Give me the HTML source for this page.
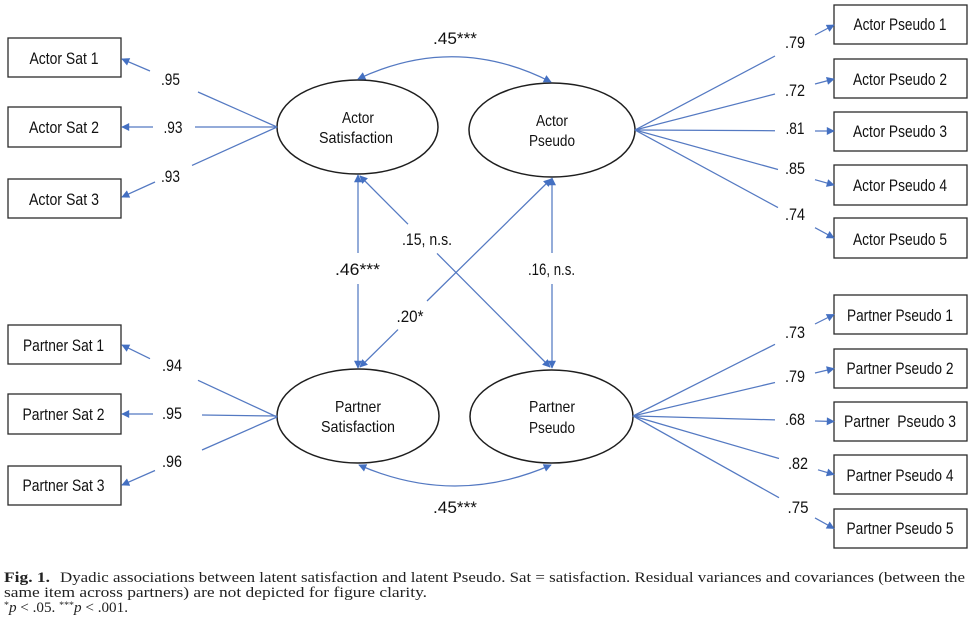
<!DOCTYPE html>
<html>
<head>
<meta charset="utf-8">
<style>
  html, body { margin: 0; padding: 0; background: #fff; }
  body { width: 975px; height: 630px; overflow: hidden; }
  svg { display: block; }
  .box { fill: #fff; stroke: #2b2b2b; stroke-width: 1.3; }
  .ell { fill: #fff; stroke: #1e1e1e; stroke-width: 1.5; }
  .ln { stroke: #5479c2; stroke-width: 1.25; fill: none; }
  .t { font-family: "Liberation Sans Narrow", "Liberation Sans", sans-serif; font-size: 17px; fill: #111; text-anchor: middle; }
  .e { font-family: "Liberation Sans Narrow", "Liberation Sans", sans-serif; font-size: 16px; fill: #111; text-anchor: middle; }
  .n { font-family: "Liberation Sans Narrow", "Liberation Sans", sans-serif; font-size: 16.5px; fill: #111; text-anchor: middle; }
  .c { font-family: "Liberation Serif", serif; font-size: 14.5px; fill: #222; }
</style>
</head>
<body>
<svg width="975" height="630" viewBox="0 0 975 630" xmlns="http://www.w3.org/2000/svg">
  <defs>
    <marker id="a" viewBox="0 0 10 10" refX="9" refY="5" markerWidth="10" markerHeight="8" markerUnits="userSpaceOnUse" orient="auto-start-reverse">
      <path d="M0,0 L10,5 L0,10 z" fill="#4470c2"/>
    </marker>
  </defs>

  <!-- Left boxes -->
  <rect class="box" x="8" y="38" width="113" height="39"/>
  <rect class="box" x="8" y="107" width="113" height="40"/>
  <rect class="box" x="8" y="179" width="113" height="39"/>
  <rect class="box" x="8" y="325" width="113" height="39"/>
  <rect class="box" x="8" y="394" width="113" height="40"/>
  <rect class="box" x="8" y="466" width="113" height="39"/>

  <text class="t" x="64" y="64" textLength="69" lengthAdjust="spacingAndGlyphs">Actor Sat 1</text>
  <text class="t" x="64" y="133" textLength="70" lengthAdjust="spacingAndGlyphs">Actor Sat 2</text>
  <text class="t" x="64" y="205" textLength="70" lengthAdjust="spacingAndGlyphs">Actor Sat 3</text>
  <text class="t" x="63.5" y="351" textLength="81" lengthAdjust="spacingAndGlyphs">Partner Sat 1</text>
  <text class="t" x="63.5" y="420" textLength="82" lengthAdjust="spacingAndGlyphs">Partner Sat 2</text>
  <text class="t" x="63.5" y="491" textLength="82" lengthAdjust="spacingAndGlyphs">Partner Sat 3</text>

  <!-- Right boxes -->
  <rect class="box" x="834" y="5" width="133" height="39"/>
  <rect class="box" x="834" y="59" width="133" height="39"/>
  <rect class="box" x="834" y="112" width="133" height="39"/>
  <rect class="box" x="834" y="165" width="133" height="40"/>
  <rect class="box" x="834" y="218" width="133" height="40"/>
  <rect class="box" x="834" y="295" width="133" height="39"/>
  <rect class="box" x="834" y="349" width="133" height="39"/>
  <rect class="box" x="834" y="402" width="133" height="39"/>
  <rect class="box" x="834" y="455" width="133" height="39"/>
  <rect class="box" x="834" y="509" width="133" height="39"/>

  <text class="t" x="900" y="30" textLength="93" lengthAdjust="spacingAndGlyphs">Actor Pseudo 1</text>
  <text class="t" x="900" y="85" textLength="94" lengthAdjust="spacingAndGlyphs">Actor Pseudo 2</text>
  <text class="t" x="900" y="137" textLength="94" lengthAdjust="spacingAndGlyphs">Actor Pseudo 3</text>
  <text class="t" x="900" y="191" textLength="94" lengthAdjust="spacingAndGlyphs">Actor Pseudo 4</text>
  <text class="t" x="900" y="245" textLength="94" lengthAdjust="spacingAndGlyphs">Actor Pseudo 5</text>
  <text class="t" x="900" y="321" textLength="106" lengthAdjust="spacingAndGlyphs">Partner Pseudo 1</text>
  <text class="t" x="900" y="374" textLength="107" lengthAdjust="spacingAndGlyphs">Partner Pseudo 2</text>
  <text class="t" x="900" y="427" textLength="112" lengthAdjust="spacingAndGlyphs" xml:space="preserve">Partner  Pseudo 3</text>
  <text class="t" x="900" y="481" textLength="107" lengthAdjust="spacingAndGlyphs">Partner Pseudo 4</text>
  <text class="t" x="900" y="534" textLength="107" lengthAdjust="spacingAndGlyphs">Partner Pseudo 5</text>

  <!-- Ellipses -->
  <ellipse class="ell" cx="357.5" cy="127" rx="80.5" ry="47"/>
  <ellipse class="ell" cx="552" cy="130" rx="83" ry="47"/>
  <ellipse class="ell" cx="358" cy="416" rx="81" ry="47"/>
  <ellipse class="ell" cx="551.5" cy="416.5" rx="81.5" ry="46.5"/>

  <text class="e" x="358" y="123" textLength="32" lengthAdjust="spacingAndGlyphs">Actor</text>
  <text class="e" x="356" y="143" textLength="74" lengthAdjust="spacingAndGlyphs">Satisfaction</text>
  <text class="e" x="552" y="126" textLength="32" lengthAdjust="spacingAndGlyphs">Actor</text>
  <text class="e" x="552" y="146" textLength="46" lengthAdjust="spacingAndGlyphs">Pseudo</text>
  <text class="e" x="358" y="412" textLength="46" lengthAdjust="spacingAndGlyphs">Partner</text>
  <text class="e" x="358" y="432" textLength="74" lengthAdjust="spacingAndGlyphs">Satisfaction</text>
  <text class="e" x="552" y="412" textLength="46" lengthAdjust="spacingAndGlyphs">Partner</text>
  <text class="e" x="552" y="433" textLength="46" lengthAdjust="spacingAndGlyphs">Pseudo</text>

  <!-- Actor satisfaction indicators -->
  <line class="ln" x1="277" y1="127" x2="198" y2="92"/>
  <line class="ln" x1="150" y1="71" x2="122" y2="59" marker-end="url(#a)"/>
  <line class="ln" x1="277" y1="127" x2="195" y2="127"/>
  <line class="ln" x1="153" y1="127" x2="122" y2="127" marker-end="url(#a)"/>
  <line class="ln" x1="277" y1="127" x2="192" y2="165.4"/>
  <line class="ln" x1="155" y1="182" x2="122" y2="197" marker-end="url(#a)"/>
  <text class="n" x="170.5" y="85" textLength="19" lengthAdjust="spacingAndGlyphs">.95</text>
  <text class="n" x="173" y="133" textLength="19" lengthAdjust="spacingAndGlyphs">.93</text>
  <text class="n" x="170.5" y="182" textLength="19" lengthAdjust="spacingAndGlyphs">.93</text>

  <!-- Partner satisfaction indicators -->
  <line class="ln" x1="277" y1="417" x2="198" y2="380.3"/>
  <line class="ln" x1="150" y1="358.7" x2="122" y2="345" marker-end="url(#a)"/>
  <line class="ln" x1="277" y1="416" x2="202" y2="415"/>
  <line class="ln" x1="153" y1="414" x2="122" y2="414" marker-end="url(#a)"/>
  <line class="ln" x1="277" y1="417" x2="202" y2="450"/>
  <line class="ln" x1="155" y1="470.5" x2="122" y2="485" marker-end="url(#a)"/>
  <text class="n" x="172" y="371" textLength="20" lengthAdjust="spacingAndGlyphs">.94</text>
  <text class="n" x="172" y="419" textLength="20" lengthAdjust="spacingAndGlyphs">.95</text>
  <text class="n" x="172" y="467" textLength="20" lengthAdjust="spacingAndGlyphs">.96</text>

  <!-- Actor pseudo indicators -->
  <line class="ln" x1="635" y1="130" x2="775" y2="56"/>
  <line class="ln" x1="815" y1="35" x2="834" y2="25" marker-end="url(#a)"/>
  <line class="ln" x1="635" y1="130" x2="775" y2="94"/>
  <line class="ln" x1="815" y1="84" x2="834" y2="79" marker-end="url(#a)"/>
  <line class="ln" x1="635" y1="130" x2="775" y2="130.7"/>
  <line class="ln" x1="815" y1="131" x2="834" y2="131" marker-end="url(#a)"/>
  <line class="ln" x1="635" y1="130" x2="778" y2="169.5"/>
  <line class="ln" x1="815" y1="179.7" x2="834" y2="185" marker-end="url(#a)"/>
  <line class="ln" x1="635" y1="130" x2="778" y2="207.6"/>
  <line class="ln" x1="815" y1="227.7" x2="834" y2="238" marker-end="url(#a)"/>
  <text class="n" x="795" y="48" textLength="20" lengthAdjust="spacingAndGlyphs">.79</text>
  <text class="n" x="795" y="96" textLength="20" lengthAdjust="spacingAndGlyphs">.72</text>
  <text class="n" x="795" y="134" textLength="19" lengthAdjust="spacingAndGlyphs">.81</text>
  <text class="n" x="795" y="174" textLength="20" lengthAdjust="spacingAndGlyphs">.85</text>
  <text class="n" x="795" y="220" textLength="20" lengthAdjust="spacingAndGlyphs">.74</text>

  <!-- Partner pseudo indicators -->
  <line class="ln" x1="633" y1="416" x2="775" y2="344.3"/>
  <line class="ln" x1="815" y1="324" x2="834" y2="314.5" marker-end="url(#a)"/>
  <line class="ln" x1="633" y1="416" x2="775" y2="382.5"/>
  <line class="ln" x1="815" y1="373" x2="834" y2="368.5" marker-end="url(#a)"/>
  <line class="ln" x1="633" y1="416" x2="775" y2="419.9"/>
  <line class="ln" x1="815" y1="421" x2="834" y2="421.5" marker-end="url(#a)"/>
  <line class="ln" x1="633" y1="416" x2="779" y2="458.5"/>
  <line class="ln" x1="818" y1="469.8" x2="834" y2="474.5" marker-end="url(#a)"/>
  <line class="ln" x1="633" y1="416" x2="779" y2="497.7"/>
  <line class="ln" x1="815" y1="517.9" x2="834" y2="528.5" marker-end="url(#a)"/>
  <text class="n" x="795" y="338" textLength="20" lengthAdjust="spacingAndGlyphs">.73</text>
  <text class="n" x="795" y="382" textLength="20" lengthAdjust="spacingAndGlyphs">.79</text>
  <text class="n" x="795" y="425" textLength="20" lengthAdjust="spacingAndGlyphs">.68</text>
  <text class="n" x="798" y="469" textLength="20" lengthAdjust="spacingAndGlyphs">.82</text>
  <text class="n" x="798" y="513" textLength="21" lengthAdjust="spacingAndGlyphs">.75</text>

  <!-- Covariance arcs -->
  <path class="ln" d="M358,79 Q455,33 551,82" marker-start="url(#a)" marker-end="url(#a)"/>
  <text class="n" x="455" y="44" textLength="44" lengthAdjust="spacingAndGlyphs">.45***</text>
  <path class="ln" d="M359,465 Q455,507 551,465" marker-start="url(#a)" marker-end="url(#a)"/>
  <text class="n" x="455" y="513" textLength="44" lengthAdjust="spacingAndGlyphs">.45***</text>

  <!-- Vertical paths -->
  <line class="ln" x1="358" y1="253" x2="358" y2="175" marker-end="url(#a)"/>
  <line class="ln" x1="358" y1="284" x2="358" y2="368" marker-end="url(#a)"/>
  <text class="n" x="357.5" y="275" textLength="45" lengthAdjust="spacingAndGlyphs">.46***</text>
  <line class="ln" x1="552" y1="253" x2="552" y2="178" marker-end="url(#a)"/>
  <line class="ln" x1="552" y1="284" x2="552" y2="368" marker-end="url(#a)"/>
  <text class="n" x="551.5" y="275" textLength="47" lengthAdjust="spacingAndGlyphs">.16, n.s.</text>

  <!-- Diagonals -->
  <line class="ln" x1="398" y1="329.6" x2="360" y2="367" marker-end="url(#a)"/>
  <line class="ln" x1="427" y1="301" x2="551" y2="179" marker-end="url(#a)"/>
  <text class="n" x="410" y="322" textLength="27" lengthAdjust="spacingAndGlyphs">.20*</text>
  <line class="ln" x1="408" y1="224.2" x2="360" y2="176" marker-end="url(#a)"/>
  <line class="ln" x1="437" y1="253.4" x2="550" y2="367" marker-end="url(#a)"/>
  <text class="n" x="427" y="245" textLength="50" lengthAdjust="spacingAndGlyphs">.15, n.s.</text>

  <!-- Caption -->
  <text class="c" x="4" y="582" font-weight="bold" textLength="46" lengthAdjust="spacingAndGlyphs">Fig. 1.</text>
  <text class="c" x="60" y="582" textLength="905" lengthAdjust="spacingAndGlyphs">Dyadic associations between latent satisfaction and latent Pseudo. Sat = satisfaction. Residual variances and covariances (between the</text>
  <text class="c" x="4" y="597" textLength="423" lengthAdjust="spacingAndGlyphs">same item across partners) are not depicted for figure clarity.</text>
  <text class="c" x="4" y="612" textLength="124" lengthAdjust="spacingAndGlyphs"><tspan font-size="9.5" dy="-4">*</tspan><tspan font-style="italic" dy="4">p</tspan> &lt; .05. <tspan font-size="9.5" dy="-4">***</tspan><tspan font-style="italic" dy="4">p</tspan> &lt; .001.</text>
</svg>
</body>
</html>
